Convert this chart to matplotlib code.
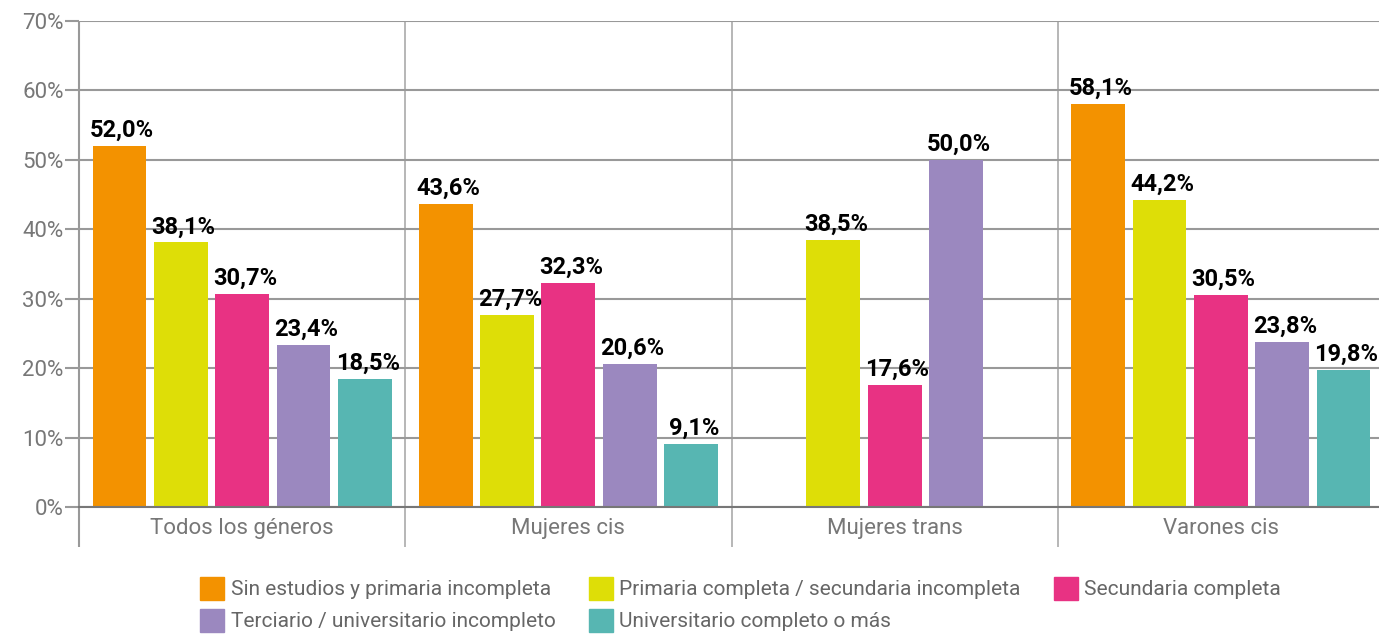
import matplotlib.pyplot as plt
from matplotlib.patches import Patch
import numpy as np

plt.rcParams['font.family'] = ['Roboto', 'DejaVu Sans']

# Data
groups = ['Todos los géneros', 'Mujeres cis', 'Mujeres trans', 'Varones cis']
levels = ['Sin estudios y primaria incompleta',
          'Primaria completa / secundaria incompleta',
          'Secundaria completa',
          'Terciario / universitario incompleto',
          'Universitario completo o más']
colors = ['#F39200', '#DEDE07', '#E83283', '#9B88BF', '#57B6B2']

sin_estudios = [52.0, 43.6, None, 58.1]
primaria = [38.1, 27.7, 38.5, 44.2]
secundaria = [30.7, 32.3, 17.6, 30.5]
terciario = [23.4, 20.6, 50.0, 23.8]
universitario = [18.5, 9.1, None, 19.8]
series = [sin_estudios, primaria, secundaria, terciario, universitario]

fig = plt.figure(figsize=(13.79, 6.37), dpi=100)
ax = fig.add_axes([79 / 1379, 1 - 507 / 637, (1384 - 79) / 1379, (507 - 21) / 637])

grey = '#999999'
step = 0.188
width = 0.165
x = np.arange(len(groups)) + 0.5

for k, (vals, col) in enumerate(zip(series, colors)):
    for i, v in enumerate(vals):
        if v is None:
            continue
        xpos = x[i] + (k - 2) * step
        ax.bar(xpos, v, width=width, color=col, zorder=3)
        ax.annotate(f'{v:.1f}%'.replace('.', ','), (xpos, v),
                    xytext=(2, 3), textcoords='offset points',
                    ha='center', va='bottom', fontsize=17,
                    fontweight='bold', color='black', zorder=4)

ax.set_xlim(0, 4)
ax.set_ylim(0, 70)
ax.set_yticks(np.arange(0, 71, 10))
ax.set_yticklabels([f'{t}%' for t in range(0, 71, 10)], fontsize=16, color='#777777')
ax.tick_params(axis='y', length=10, width=1.5, color=grey, pad=1)
ax.grid(axis='y', color=grey, linewidth=1.5, zorder=0)

# group labels and separators
ax.set_xticks(x)
ax.set_xticklabels(groups, fontsize=16, color='#777777')
ax.tick_params(axis='x', length=0, pad=8)
ax.vlines([1, 2, 3], -5.8, 70, color='#aaaaaa', linewidth=1.2, clip_on=False, zorder=1)
ax.vlines([0], -5.8, 70, color=grey, linewidth=1.5, clip_on=False, zorder=1)

for s in ['top', 'right', 'left']:
    ax.spines[s].set_visible(False)
ax.spines['bottom'].set_color('#777777')
ax.spines['bottom'].set_linewidth(1.5)
ax.spines['bottom'].set_zorder(5)

# legend, ordered so rows read left to right
order = [0, 3, 1, 4, 2]
handles = [Patch(color=colors[j]) for j in order]
labels = [levels[j] for j in order]
fig.legend(handles, labels, ncol=3, loc='lower left', bbox_to_anchor=(190 / 1379, -0.008),
           frameon=False, fontsize=15, labelcolor='#666666',
           handlelength=1.15, handleheight=1.3, handletextpad=0.3,
           columnspacing=1.6, labelspacing=0.45, borderaxespad=0.1)

plt.savefig('out.png', dpi=100)
